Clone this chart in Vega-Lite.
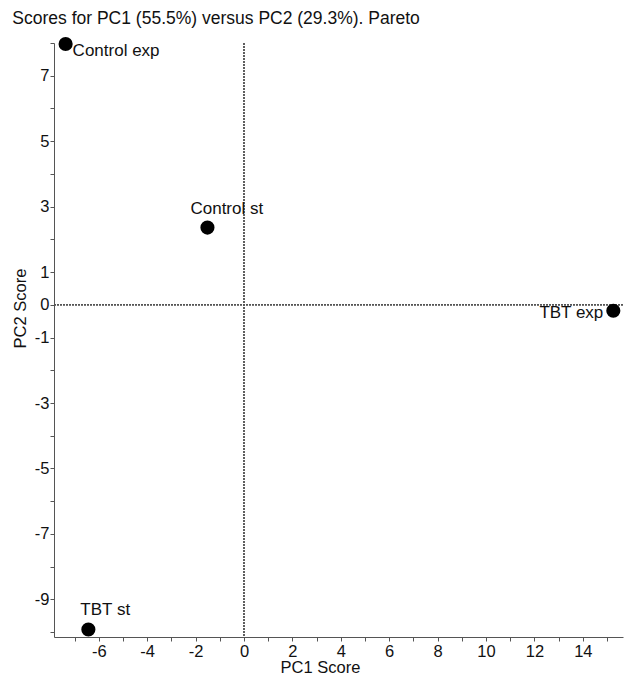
{
  "$schema": "https://vega.github.io/schema/vega-lite/v6.json",
  "autosize": "none",
  "width": 569,
  "height": 594,
  "padding": {"left": 54, "top": 43, "right": 12, "bottom": 39},
  "background": "white",
  "config": {
    "view": {"stroke": null},
    "font": "Liberation Sans",
    "axis": {"grid": false, "domainColor": "#555", "tickColor": "#555", "labelColor": "#111", "titleColor": "#111", "labelFont": "Liberation Sans", "titleFont": "Liberation Sans", "labelFontSize": 16.5, "titleFontSize": 16.5, "titleFontWeight": "normal", "tickSize": 4, "labelFlush": false, "labelOverlap": false}
  },
  "title": {"text": "Scores for PC1 (55.5%) versus PC2 (29.3%). Pareto", "anchor": "start", "dx": 0, "offset": 8, "fontSize": 17.5, "fontWeight": "normal", "font": "Liberation Sans", "color": "#111"},
  "data": {"values": [
    {"name": "Control exp", "pc1": -7.37, "pc2": 7.97},
    {"name": "Control st", "pc1": -1.51, "pc2": 2.36},
    {"name": "TBT exp", "pc1": 15.26, "pc2": -0.18},
    {"name": "TBT st", "pc1": -6.43, "pc2": -9.92}
  ]},
  "encoding": {
    "x": {"field": "pc1", "type": "quantitative", "title": "PC1 Score",
      "scale": {"domain": [-7.85, 15.66], "nice": false, "zero": false},
      "axis": {"values": [-7,-6,-5,-4,-3,-2,-1,0,1,2,3,4,5,6,7,8,9,10,11,12,13,14,15], "labelExpr": "datum.value % 2 == 0 ? '' + datum.value : ''", "titlePadding": 0, "labelPadding": 2, "titleX": 266}},
    "y": {"field": "pc2", "type": "quantitative", "title": "PC2 Score",
      "scale": {"domain": [-10.15, 8.0], "nice": false, "zero": false},
      "axis": {"values": [-10,-9,-8,-7,-6,-5,-4,-3,-2,-1,0,1,2,3,4,5,6,7,8], "labelExpr": "(datum.value % 2 != 0 || datum.value == 0) ? '' + datum.value : ''", "titlePadding": 6, "labelPadding": 1, "titleY": 265}}
  },
  "layer": [
    {"mark": {"type": "rule", "strokeDash": [2, 1], "color": "#555", "strokeWidth": 1}, "encoding": {"x": {"datum": 0}, "y": null}},
    {"mark": {"type": "rule", "strokeDash": [2, 1], "color": "#555", "strokeWidth": 1}, "encoding": {"y": {"datum": 0}, "x": null}},
    {"mark": {"type": "point", "filled": true, "color": "black", "opacity": 1, "size": 200}},
    {"transform": [{"filter": "datum.name == 'Control exp'"}], "mark": {"type": "text", "align": "left", "baseline": "middle", "dx": 7, "dy": 7, "fontSize": 17, "color": "#111"}, "encoding": {"text": {"field": "name"}}},
    {"transform": [{"filter": "datum.name == 'Control st'"}], "mark": {"type": "text", "align": "left", "baseline": "middle", "dx": -17, "dy": -19, "fontSize": 17, "color": "#111"}, "encoding": {"text": {"field": "name"}}},
    {"transform": [{"filter": "datum.name == 'TBT exp'"}], "mark": {"type": "text", "align": "right", "baseline": "middle", "dx": -10, "dy": 2, "fontSize": 17, "color": "#111"}, "encoding": {"text": {"field": "name"}}},
    {"transform": [{"filter": "datum.name == 'TBT st'"}], "mark": {"type": "text", "align": "left", "baseline": "middle", "dx": -8, "dy": -19, "fontSize": 17, "color": "#111"}, "encoding": {"text": {"field": "name"}}}
  ]
}
